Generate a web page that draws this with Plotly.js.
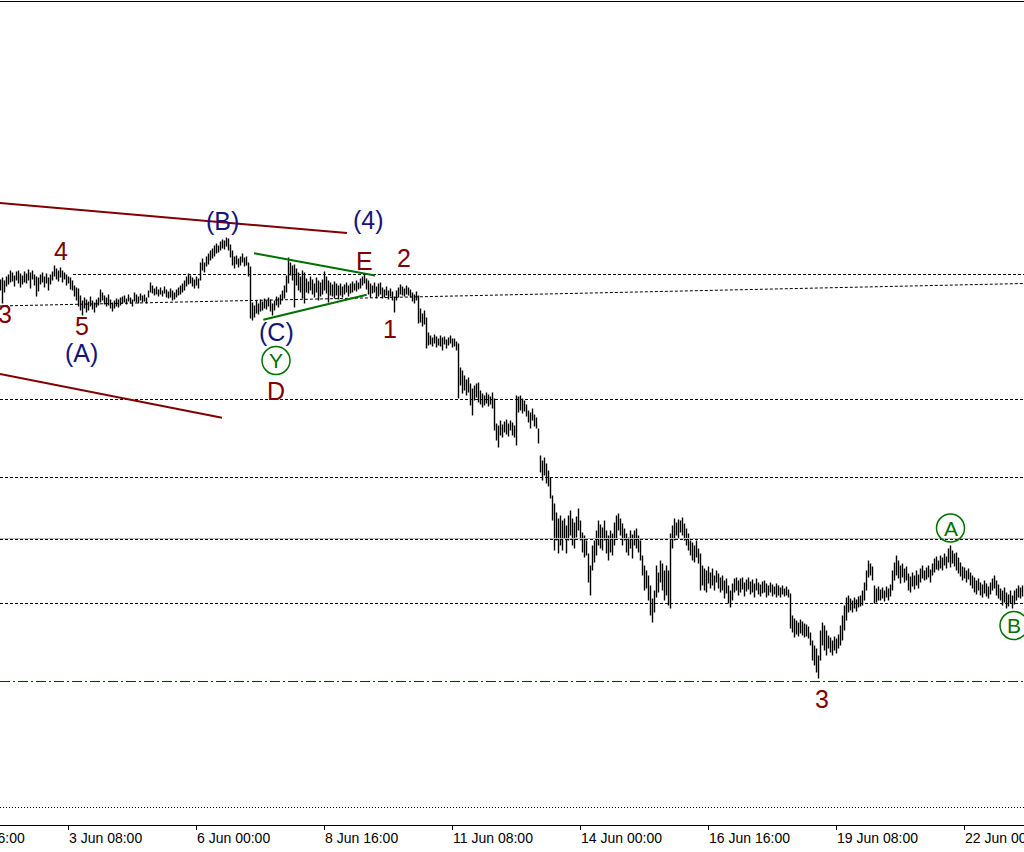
<!DOCTYPE html>
<html><head><meta charset="utf-8">
<script src="https://cdn.plot.ly/plotly-3.0.1.min.js"></script>
<style>html,body{margin:0;padding:0;background:#fff;overflow:hidden}#chart{width:1024px;height:852px}</style>
</head><body><div id="chart"></div>
<script>
// Hourly bars, first bar 1 Jun 22:00
const firstBar = [2020, 5, 1, 22];
const highs = [
1721,1723,1720,1724,1726,1730,1728,1725,1729,1730,
1727,1725,1729,1727,1731,1728,1730,1726,1724,1723,
1726,1728,1724,1727,1723,1726,1729,1735,1732,1730,
1733,1730,1728,1726,1724,1723,1720,1715,1713,1712,
1705,1700,1703,1701,1699,1704,1700,1698,1701,1703,
1711,1708,1705,1703,1706,1701,1698,1700,1702,1701,
1703,1704,1705,1702,1706,1703,1701,1708,1706,1704,
1707,1705,1706,1703,1710,1718,1715,1712,1714,1711,
1713,1710,1714,1711,1709,1712,1710,1708,1711,1713,
1715,1717,1720,1724,1727,1725,1723,1721,1724,1722,
1738,1742,1738,1744,1747,1750,1752,1755,1757,1755,
1759,1761,1760,1763,1762,1756,1750,1744,1745,1742,
1744,1747,1743,1744,1738,1734,1698,1695,1700,1697,
1701,1699,1702,1700,1703,1701,1697,1700,1704,1703,
1706,1710,1715,1725,1743,1738,1735,1736,1732,1728,
1724,1730,1728,1722,1719,1724,1721,1717,1723,1720,
1718,1721,1729,1724,1720,1718,1716,1719,1717,1715,
1717,1714,1716,1718,1715,1717,1719,1717,1720,1718,
1722,1724,1726,1722,1720,1717,1715,1718,1714,1717,
1718,1713,1711,1714,1710,1712,1709,1704,1710,1713,
1716,1714,1712,1715,1713,1711,1708,1706,1709,1705,
1692,1687,1690,1683,1668,1665,1663,1666,1664,1662,
1665,1663,1664,1661,1663,1665,1662,1662,1659,1657,
1633,1630,1625,1621,1623,1617,1612,1615,1617,1618,
1610,1607,1605,1608,1606,1604,1608,1602,1577,1575,
1580,1576,1579,1581,1577,1580,1578,1575,1605,1604,
1605,1602,1600,1596,1590,1588,1592,1586,1583,1572,
1545,1540,1543,1537,1530,1523,1505,1497,1488,1482,
1485,1480,1482,1475,1485,1490,1482,1478,1484,1492,
1480,1468,1465,1460,1447,1435,1455,1460,1470,1480,
1476,1473,1480,1470,1465,1470,1467,1478,1485,1487,
1482,1477,1472,1467,1463,1470,1466,1470,1472,1465,
1460,1445,1435,1430,1425,1415,1402,1410,1435,1428,
1440,1437,1430,1435,1430,1467,1475,1482,1478,1481,
1480,1483,1477,1472,1467,1460,1458,1455,1460,1452,
1447,1435,1432,1430,1434,1428,1432,1425,1430,1427,
1423,1425,1420,1422,1415,1410,1417,1422,1423,1420,
1422,1423,1418,1421,1423,1419,1421,1417,1422,1418,
1416,1419,1420,1417,1415,1418,1416,1414,1417,1415,
1413,1415,1412,1414,1411,1407,1385,1382,1380,1378,
1381,1379,1377,1376,1374,1368,1360,1355,1352,1345,
1370,1378,1375,1370,1365,1363,1360,1364,1362,1366,
1375,1385,1395,1403,1405,1402,1400,1403,1401,1404,
1405,1410,1418,1430,1440,1437,1434,1415,1412,1414,
1411,1413,1410,1414,1412,1416,1430,1438,1445,1440,
1435,1437,1432,1434,1427,1424,1428,1425,1430,1426,
1432,1435,1430,1433,1435,1431,1437,1442,1444,1440,
1445,1443,1447,1444,1452,1455,1450,1447,1448,1443,
1438,1434,1433,1430,1432,1428,1425,1423,1420,1422,
1418,1416,1420,1417,1414,1418,1422,1425,1420,1416,
1412,1410,1413,1408,1406,1410,1405,1410,1412,1415,1413,1415
];
const lows = [
1710,1697,1708,1714,1716,1718,1719,1714,1720,1717,
1713,1716,1718,1717,1720,1712,1721,1715,1704,1709,
1716,1718,1713,1717,1710,1716,1720,1724,1721,1719,
1723,1718,1721,1715,1717,1711,1710,1704,1700,1694,
1690,1685,1692,1688,1690,1694,1691,1688,1693,1695,
1698,1700,1696,1694,1695,1692,1689,1692,1694,1693,
1695,1697,1698,1696,1699,1697,1694,1699,1698,1697,
1700,1698,1699,1697,1703,1708,1707,1705,1706,1704,
1706,1704,1707,1703,1702,1703,1700,1701,1703,1705,
1706,1708,1710,1714,1716,1717,1714,1712,1715,1712,
1720,1730,1728,1734,1736,1740,1742,1744,1747,1748,
1750,1752,1751,1754,1750,1743,1735,1732,1736,1733,
1735,1738,1734,1735,1724,1682,1680,1683,1687,1686,
1689,1690,1692,1691,1694,1689,1685,1690,1695,1693,
1696,1700,1702,1708,1717,1725,1720,1693,1715,1710,
1708,1702,1697,1708,1707,1710,1706,1703,1708,1700,
1704,1706,1710,1707,1698,1705,1704,1702,1705,1701,
1705,1703,1706,1708,1704,1707,1708,1710,1709,1711,
1712,1715,1717,1711,1706,1703,1707,1708,1702,1704,
1706,1702,1703,1705,1701,1704,1700,1688,1700,1703,
1706,1705,1704,1706,1705,1703,1699,1697,1700,1677,
1678,1674,1676,1652,1655,1656,1654,1657,1653,1655,
1654,1650,1656,1652,1655,1657,1653,1654,1650,1602,
1615,1607,1610,1605,1608,1595,1585,1600,1603,1598,
1596,1593,1595,1597,1594,1596,1592,1570,1560,1553,
1565,1563,1568,1566,1564,1570,1565,1563,1555,1588,
1590,1587,1589,1584,1578,1572,1580,1574,1572,1557,
1528,1520,1525,1517,1514,1502,1480,1450,1460,1447,
1455,1450,1462,1447,1460,1465,1455,1452,1463,1470,
1460,1448,1443,1445,1418,1405,1430,1438,1445,1455,
1452,1450,1460,1447,1440,1448,1445,1455,1462,1470,
1465,1455,1460,1448,1445,1452,1442,1455,1452,1448,
1440,1425,1410,1412,1400,1385,1378,1388,1403,1408,
1418,1410,1400,1405,1395,1392,1452,1460,1465,1462,
1468,1465,1460,1455,1450,1445,1440,1438,1443,1437,
1410,1415,1410,1408,1417,1412,1415,1410,1418,1412,
1408,1410,1402,1407,1397,1393,1400,1408,1410,1405,
1408,1411,1404,1409,1411,1406,1408,1403,1410,1406,
1404,1407,1408,1403,1405,1408,1404,1406,1403,1405,
1403,1406,1404,1405,1403,1372,1368,1363,1366,1364,
1367,1365,1363,1364,1362,1355,1340,1335,1328,1322,
1340,1355,1350,1345,1352,1348,1345,1350,1347,1352,
1355,1360,1370,1380,1388,1390,1388,1392,1389,1393,
1394,1395,1400,1410,1423,1425,1420,1397,1398,1400,
1400,1402,1399,1403,1400,1404,1410,1420,1425,1422,
1417,1423,1418,1420,1410,1408,1414,1411,1415,1412,
1418,1422,1420,1421,1423,1418,1425,1428,1431,1430,
1432,1430,1435,1432,1438,1433,1437,1434,1430,1427,
1424,1420,1422,1418,1421,1415,1412,1408,1406,1410,
1405,1403,1407,1404,1402,1406,1410,1412,1405,1402,
1400,1395,1398,1392,1394,1397,1392,1396,1400,1403,1402,1404
];

// Axis tick labels
const tickTimes = ['2020-05-31 16:00','2020-06-03 08:00','2020-06-06 00:00','2020-06-08 16:00','2020-06-11 08:00','2020-06-14 00:00','2020-06-16 16:00','2020-06-19 08:00','2020-06-22 00:00'];
const tickLabels = ['31 May 16:00','3 Jun 08:00','6 Jun 00:00','8 Jun 16:00','11 Jun 08:00','14 Jun 00:00','16 Jun 16:00','19 Jun 08:00','22 Jun 00:00'];
const viewRange = ['2020-06-01 21:45','2020-06-23 05:45'];
const priceRange = [1175.5, 1998.5];

// Horizontal levels
const levelPrices = [1601, 1523, 1461, 1397, 1319, 1193];
const upperLevel = {start:'2020-06-03 10:15', price:1726};

// Trend lines [t0, p0, t1, p1]
const channelUpper = ['2020-06-01 21:45',1797.5,'2020-06-09 03:15',1767.5];
const channelLower = ['2020-06-01 21:45',1626.5,'2020-06-06 12:45',1582.7];
const triUpper = ['2020-06-07 04:45',1747.3,'2020-06-09 17:15',1725];
const triLower = ['2020-06-07 09:24',1680.7,'2020-06-09 13:06',1705.7];
const slopeLine = ['2020-06-01 21:45',1694.5,'2020-06-23 05:45',1717];

// Wave labels
const redText = ['3','4','5','D','E','2','1','3'];
const redTime = ['2020-06-02 00:15','2020-06-03 04:15','2020-06-03 14:30','2020-06-07 15:45','2020-06-09 12:06','2020-06-10 07:45','2020-06-10 00:45','2020-06-19 00:45'];
const redPrice = [1687,1750,1675,1610,1740,1743,1672,1302];
const blueText = ['(A)','(B)','(C)','(4)'];
const blueTime = ['2020-06-03 14:15','2020-06-06 13:00','2020-06-07 16:00','2020-06-09 13:45'];
const bluePrice = [1648,1780,1668.5,1781];
const circText = ['Y','A','B'];
const circTime = ['2020-06-07 15:45','2020-06-21 17:00','2020-06-23 00:45'];
const circPrice = [1640,1472.5,1375];

// ---- build ----
function fmt(d){return d.toISOString().slice(0,16).replace('T',' ');}
const t0 = Date.UTC(firstBar[0],firstBar[1],firstBar[2],firstBar[3]);
const bx=[], by=[];
for(let i=0;i<highs.length;i++){
  const t=fmt(new Date(t0+i*3600000));
  bx.push(t,t,null); by.push(lows[i],highs[i],null);
}
const bars = {type:'scatter',mode:'lines',x:bx,y:by,connectgaps:false,
  line:{color:'#000',width:1.4},hoverinfo:'skip',showlegend:false};

const shapes=[];
function seg(a,color,width,dash){
  shapes.push({type:'line',xref:'x',yref:'y',x0:a[0],y0:a[1],x1:a[2],y1:a[3],
    line:{color:color,width:width,dash:dash||'solid'},layer:'above'});
}
const dashStyles=['3px,2px','3px,2px','3px,2px','3px,2px','10px,3px,2px,3px','1px,2px'];
const dashColors=['#000','#000','#000','#000','#0d3a0d','#000'];
levelPrices.forEach((p,k)=>{
  if(k===2) seg([viewRange[0],p+1,viewRange[1],p+1],'#b8b8b8',1,'solid');
  seg([viewRange[0],p,viewRange[1],p],dashColors[k],1,dashStyles[k]);
});
seg([upperLevel.start,upperLevel.price,viewRange[1],upperLevel.price],'#000',1,'3px,2px');
seg(slopeLine,'#000',1,'3px,2px');
seg(channelUpper,'#800000',2);
seg(channelLower,'#800000',2);
seg(triUpper,'#007000',2);
seg(triLower,'#007000',2);

const ann=[];
const labFont='Liberation Sans, Arial, sans-serif';
redText.forEach((s,k)=>ann.push({x:redTime[k],y:redPrice[k],text:s,showarrow:false,xanchor:'center',yanchor:'middle',
  font:{family:labFont,size:25,color:'#800000'}}));
blueText.forEach((s,k)=>ann.push({x:blueTime[k],y:bluePrice[k],text:s,showarrow:false,xanchor:'center',yanchor:'middle',
  font:{family:labFont,size:25,color:'#14147a'}}));
circText.forEach((s,k)=>{
  ann.push({x:circTime[k],y:circPrice[k],text:s,showarrow:false,xanchor:'center',yanchor:'middle',
    font:{family:labFont,size:21,color:'#007000'}});
  shapes.push({type:'circle',xref:'x',yref:'y',xsizemode:'pixel',ysizemode:'pixel',
    xanchor:circTime[k],yanchor:circPrice[k],x0:-14,x1:14,y0:-14,y1:14,
    line:{color:'#007000',width:1.5},layer:'above'});
});
// axis labels, left-aligned at their ticks
const tickFont={family:'Liberation Sans, Arial, sans-serif',size:14,color:'#000'};
tickLabels.forEach((s,k)=>{
  if(k===0){
    ann.push({xref:'paper',yref:'paper',x:0,y:0,xanchor:'right',yanchor:'top',xshift:27,yshift:-3,
      text:s,showarrow:false,font:tickFont});
  } else {
    ann.push({xref:'x',yref:'paper',x:tickTimes[k],y:0,xanchor:'left',yanchor:'top',xshift:-2,yshift:-3,
      text:s,showarrow:false,font:tickFont});
  }
});

const layout={
  width:1024,height:852,margin:{l:0,r:0,t:2,b:27,pad:0},
  paper_bgcolor:'#fff',plot_bgcolor:'#fff',showlegend:false,
  xaxis:{type:'date',range:viewRange,showgrid:false,zeroline:false,showline:true,mirror:true,
    linecolor:'#000',linewidth:1,ticks:'outside',ticklen:4,tickcolor:'#000',
    tickmode:'array',tickvals:tickTimes,showticklabels:false,fixedrange:true},
  yaxis:{range:priceRange,showgrid:false,zeroline:false,showline:false,showticklabels:false,ticks:'',fixedrange:true},
  shapes:shapes,annotations:ann
};
Plotly.newPlot('chart',[bars],layout,{displayModeBar:false,staticPlot:true});
</script>
</body></html>
